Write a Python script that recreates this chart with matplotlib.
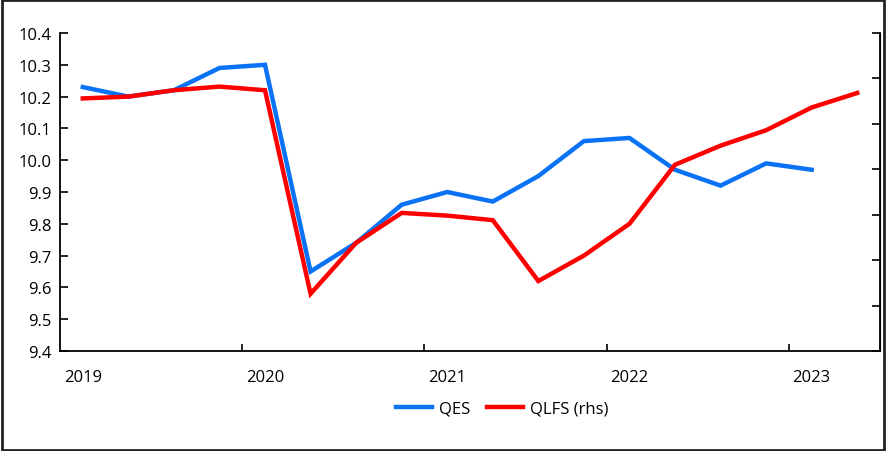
import numpy as np
import matplotlib.pyplot as plt
from matplotlib.lines import Line2D

# quarterly data, 2019Q1 .. 2023Q2
quarters = ["2019Q1", "2019Q2", "2019Q3", "2019Q4",
            "2020Q1", "2020Q2", "2020Q3", "2020Q4",
            "2021Q1", "2021Q2", "2021Q3", "2021Q4",
            "2022Q1", "2022Q2", "2022Q3", "2022Q4",
            "2023Q1", "2023Q2"]
qes = [10.23, 10.20, 10.22, 10.29, 10.30, 9.65, 9.74, 9.86, 9.90,
       9.87, 9.95, 10.06, 10.07, 9.97, 9.92, 9.99, 9.97]
qlfs = [16.28, 16.30, 16.37, 16.41, 16.37, 14.13, 14.69, 15.02, 14.99,
        14.94, 14.27, 14.55, 14.90, 15.55, 15.76, 15.93, 16.18, 16.34]
year_labels = ["2019", "2020", "2021", "2022", "2023"]

plt.rcParams['font.family'] = ['Open Sans', 'DejaVu Sans']

fig = plt.figure(figsize=(8.87, 4.52), dpi=100)
ax = fig.add_axes([60/887, 1-352/452, 820/887, 318/452])
ax2 = ax.twinx()

blue = "#0A72F5"
red = "#FF0000"
x = np.arange(len(quarters))
ax.plot(x[:len(qes)], qes, color=blue, lw=3.2, solid_joinstyle="miter", zorder=2)
ax2.plot(x, qlfs, color=red, lw=3.2, solid_joinstyle="miter", zorder=3)

ax.set_xlim(-0.5, len(quarters)-0.5)
ax.set_ylim(9.4, 10.4)
ax.set_yticks(np.arange(9.4, 10.41, 0.1))
ax.set_yticklabels([f"{v:.1f}" for v in np.arange(9.4, 10.41, 0.1)])
ax2.set_ylim(13.5, 17.0)
ax2.set_yticks(np.arange(13.5, 17.01, 0.5))
ax2.set_yticklabels([])

# year labels at Q1, tick marks at year boundaries
ax.set_xticks(x[::4])
ax.set_xticklabels(year_labels)
ax.set_xticks(np.arange(3.5, len(quarters)-1, 4), minor=True)
ax.tick_params(axis="x", which="major", length=0, pad=13, labelsize=12)
ax.tick_params(axis="x", which="minor", direction="in", length=5, width=1.2)
ax.tick_params(axis="y", direction="in", length=6, width=1.2, labelsize=12, pad=6)
ax2.tick_params(axis="y", direction="in", length=6, width=1.2)

ax.spines["top"].set_visible(False)
ax2.spines["top"].set_visible(False)
for s in ["left", "bottom"]:
    ax.spines[s].set_linewidth(1.3)
ax2.spines["right"].set_linewidth(1.3)
ax2.spines["left"].set_visible(False)
ax2.spines["bottom"].set_visible(False)

handles = [Line2D([], [], color=blue, lw=3.2), Line2D([], [], color=red, lw=3.2)]
fig.legend(handles, ["QES", "QLFS (rhs)"], loc="center", bbox_to_anchor=(502/887, 1-410/452),
           ncol=2, frameon=False, fontsize=12, handlelength=2.2, columnspacing=1.0, handletextpad=0.4)

# outer frame
fig.patches.append(plt.Rectangle((0.002, 0.003), 0.995, 0.994, transform=fig.transFigure,
                                 fill=False, edgecolor="#222222", lw=2))

fig.savefig("out.png", dpi=100)
